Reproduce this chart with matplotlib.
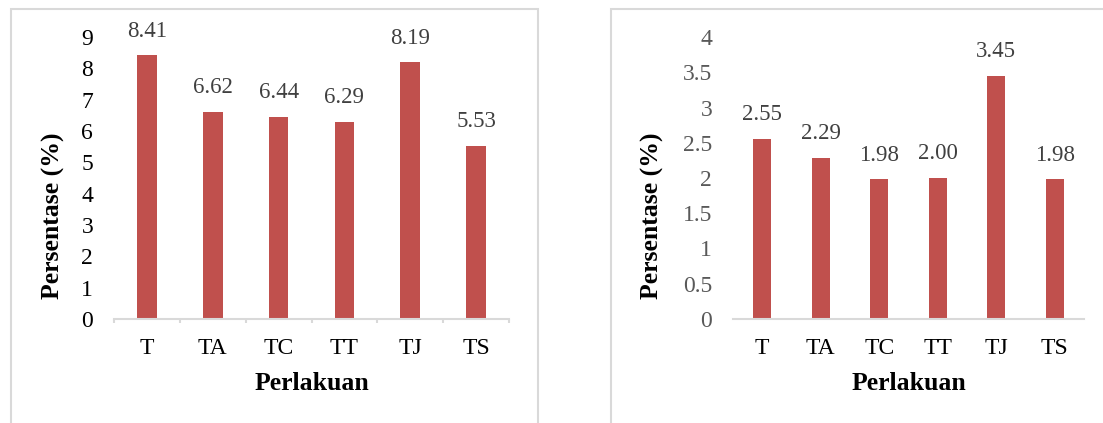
import matplotlib
matplotlib.use("Agg")
import matplotlib.pyplot as plt
from matplotlib.patches import Rectangle

plt.rcParams['font.family'] = ['Liberation Serif', 'DejaVu Serif']

categories = ["T", "TA", "TC", "TT", "TJ", "TS"]
left_values = [8.41, 6.62, 6.44, 6.29, 8.19, 5.53]
left_labels = ["8.41", "6.62", "6.44", "6.29", "8.19", "5.53"]
right_values = [2.55, 2.29, 1.98, 2.00, 3.45, 1.98]
right_labels = ["2.55", "2.29", "1.98", "2.00", "3.45", "1.98"]
left_yticks = [0, 1, 2, 3, 4, 5, 6, 7, 8, 9]
right_yticks = [0, 0.5, 1, 1.5, 2, 2.5, 3, 3.5, 4]
right_ytick_labels = ["0", "0.5", "1", "1.5", "2", "2.5", "3", "3.5", "4"]
xlabel = "Perlakuan"
ylabel = "Persentase (%)"

W, H = 1103, 423
fig = plt.figure(figsize=(W / 100, H / 100), dpi=100)

BAR = "#C0504D"
GRID = "#D9D9D9"

def px_rect(x0, y0, x1, y1):
    return [x0 / W, (H - y1) / H, (x1 - x0) / W, (y1 - y0) / H]

# panel frames
for (x0, y0, x1, y1) in [(10.5, 9, 537.5, 440), (611, 9, 1120, 440)]:
    fig.patches.append(Rectangle((x0 / W, (H - y1) / H), (x1 - x0) / W, (y1 - y0) / H,
                                 transform=fig.transFigure, fill=False,
                                 edgecolor=GRID, linewidth=1.5, clip_on=False))

def make_panel(rect, values, labels, yticks, yticklabels, ymax, ytick_color,
               boundary_ticks, ylabel_x):
    ax = fig.add_axes(rect)
    x = list(range(len(categories)))
    ax.bar(x, values, width=0.3, color=BAR, zorder=2)
    ax.set_xlim(-0.5, len(categories) - 0.5)
    ax.set_ylim(0, ymax)
    for s in ["top", "right", "left"]:
        ax.spines[s].set_visible(False)
    ax.spines["bottom"].set_color(GRID)
    ax.spines["bottom"].set_linewidth(1.5)
    ax.set_yticks(yticks)
    ax.set_yticklabels(yticklabels, fontsize=17, color=ytick_color)
    ax.tick_params(axis="y", length=0, pad=15)
    ax.set_xticks(x)
    ax.set_xticklabels(categories, fontsize=17, color="black")
    ax.tick_params(axis="x", which="major", length=0, pad=14)
    if boundary_ticks:
        ax.set_xticks([i - 0.5 for i in range(len(categories) + 1)], minor=True)
        ax.tick_params(axis="x", which="minor", length=3, width=1.5, color=GRID)
    for xi, v, lab in zip(x, values, labels):
        ax.annotate(lab, (xi, v), xytext=(0, 17.5), textcoords="offset points",
                    ha="center", va="center", fontsize=16.5, color="#404040",
                    annotation_clip=False)
    ax.set_xlabel(xlabel, fontsize=18.5, fontweight="bold", color="black")
    ax.xaxis.label.set_va("center")
    ax.xaxis.set_label_coords(0.5, -0.227)
    ax.set_ylabel(ylabel, fontsize=18.5, fontweight="bold", color="black")
    ax.yaxis.label.set_va("center")
    ax.yaxis.set_label_coords(ylabel_x, 0.367)
    ax.set_facecolor("none")
    return ax

make_panel(px_rect(114, 37, 509, 319), left_values, left_labels, left_yticks,
           [str(t) for t in left_yticks], 9, "black", True, (53 - 114) / 395)
make_panel(px_rect(733, 37, 1084, 319), right_values, right_labels, right_yticks,
           right_ytick_labels, 4, "#595959", False, (652 - 733) / 351)

fig.savefig("out.png", dpi=100)
